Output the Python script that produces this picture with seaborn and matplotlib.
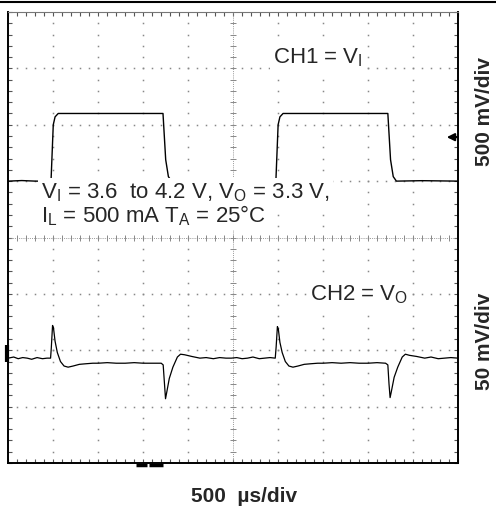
import numpy as np
import matplotlib
matplotlib.use("Agg")
import matplotlib.pyplot as plt
import seaborn as sns

# CH1: napiecie wejsciowe V_I [V], 500 mV/div
CH1_TIME_US = [0, 150, 300, 475, 500, 520, 555, 1720, 1750, 1780, 1815, 2000, 2300,
               2975, 3000, 3020, 3055, 4220, 4250, 4280, 4315, 4600, 5000]
CH1_VOLTS = [3.60, 3.605, 3.60, 3.60, 4.10, 4.17, 4.20, 4.20, 3.79, 3.64, 3.60, 3.603, 3.60,
             3.60, 4.10, 4.17, 4.20, 4.20, 3.79, 3.64, 3.60, 3.604, 3.60]

# CH2: odchylka napiecia wyjsciowego V_O [mV], 50 mV/div (AC)
CH2_TIME_US = [0, 60, 110, 160, 210, 260, 320, 380, 430, 470, 478, 492, 502, 520, 545,
               580, 620, 665, 720, 790, 860, 940, 1000, 1100, 1200, 1300, 1400, 1500,
               1600, 1700, 1722, 1735, 1748, 1760, 1790, 1830, 1880, 1915, 1960, 2040,
               2130, 2200, 2280, 2350, 2420, 2480,
               2540, 2600, 2660, 2720, 2790, 2850, 2910, 2968, 2978, 2992, 3002, 3020,
               3045, 3080, 3120, 3165, 3220, 3290, 3360, 3440, 3500, 3600, 3700, 3800,
               3900, 4000, 4100, 4195, 4220, 4233, 4245, 4258, 4290, 4330, 4380, 4415,
               4460, 4540, 4630, 4700, 4780, 4850, 4920, 5000]
CH2_MV = [-7, -6, -7.5, -6.5, -7, -8, -6.5, -7.5, -7, -7, 2, 22, 20, 8, -2,
          -10, -14, -15, -14, -12.5, -12, -11.5, -11.5, -11, -11.5, -11.5, -11, -11.5,
          -11.5, -11.5, -13, -28, -43, -38, -25, -15, -6, -3.5, -4, -5.5,
          -7, -6.5, -7.5, -6.5, -7, -7,
          -6.5, -7.5, -7, -6, -7.5, -7, -6.5, -7, 3, 21, 19, 7,
          -2, -10, -14, -15, -14, -12.5, -12, -11.5, -11.5, -11, -11.5, -11,
          -11.5, -11.5, -11, -11.5, -13, -30, -42, -37, -24, -15, -6, -3.5,
          -4.5, -5.5, -7, -6, -7.5, -7, -6.5, -7]

# --- ustawienia ekranu oscyloskopu ---
US_PER_DIV = 500
N_XDIV = 10
N_YDIV = 8
CH1_V_PER_DIV = 0.5
CH1_REF_V = 3.6
CH1_REF_DIV = 5
CH2_MV_PER_DIV = 50
CH2_REF_DIV = 2
TRIG_LEVEL_DIV = 5.78
BOTTOM_MARKS_US = [(1420, 1540), (1565, 1720)]

TEXT_SIZE = 16
LABEL_SIZE = 15

sns.set_theme(style="white")
plt.rcParams["font.family"] = ["Liberation Sans", "DejaVu Sans"]
plt.rcParams["mathtext.default"] = "regular"

fig = plt.figure(figsize=(4.96, 5.08), dpi=100)
ax = fig.add_axes([8.3 / 496, 45 / 508, 449.7 / 496, 451 / 508])

x_max = US_PER_DIV * N_XDIV
ch1_div = CH1_REF_DIV + (np.array(CH1_VOLTS) - CH1_REF_V) / CH1_V_PER_DIV
ch2_div = CH2_REF_DIV + np.array(CH2_MV) / CH2_MV_PER_DIV

# siatka kropkowana
minor_x = np.arange(100, x_max, 100)
minor_y = np.arange(0.2, N_YDIV, 0.2)
major_x = [i * US_PER_DIV for i in range(1, N_XDIV) if i != N_XDIV // 2]
major_y = [j for j in range(1, N_YDIV) if j != N_YDIV // 2]
gx, gy = np.meshgrid(major_x, minor_y)
ax.plot(gx.ravel(), gy.ravel(), ls="none", marker="s", ms=1.1, color="#888888", mew=0)
hx, hy = np.meshgrid(minor_x, major_y)
ax.plot(hx.ravel(), hy.ravel(), ls="none", marker="s", ms=1.1, color="#888888", mew=0)

# osie srodkowe z podzialka
cx, cy = x_max / 2, N_YDIV / 2
ax.axhline(cy, color="#999999", lw=0.7, ls=(0, (1, 1.2)))
ax.axvline(cx, color="#999999", lw=0.7, ls=(0, (1, 1.2)))
ax.plot(minor_x, np.full_like(minor_x, cy, dtype=float), ls="none", marker="|",
        ms=4, color="#888888", mew=0.7)
ax.plot(np.full_like(minor_y, cx), minor_y, ls="none", marker="_",
        ms=4, color="#888888", mew=0.7)

# przebiegi
sns.lineplot(x=CH1_TIME_US, y=ch1_div, ax=ax, color="black", lw=1.0,
             estimator=None, sort=False)
sns.lineplot(x=CH2_TIME_US, y=ch2_div, ax=ax, color="black", lw=0.9,
             estimator=None, sort=False)

ax.set_xlim(0, x_max)
ax.set_ylim(0, N_YDIV)
ax.set_xticks([])
ax.set_yticks([])
ax.set_xticks(np.arange(0, x_max + 1, 100), minor=True)
ax.set_yticks(np.arange(0, N_YDIV + 0.01, 0.2), minor=True)
ax.tick_params(which="minor", direction="in", length=3, width=0.8, color="#555555",
               top=True, right=True, bottom=True, left=True,
               labelbottom=False, labelleft=False)
for side in ["left", "right", "bottom"]:
    ax.spines[side].set_color("black")
    ax.spines[side].set_linewidth(1.4)
ax.spines["top"].set_color("#777777")
ax.spines["top"].set_linewidth(0.8)

# znaczniki oscyloskopu
ax.annotate("", xy=(x_max - 125, TRIG_LEVEL_DIV), xytext=(x_max - 5, TRIG_LEVEL_DIV),
            arrowprops=dict(arrowstyle="-|>", color="black", lw=1.5, mutation_scale=11,
                            shrinkA=0, shrinkB=0))
ax.plot([-15, -15], [CH2_REF_DIV - 0.2, CH2_REF_DIV + 0.1], color="black", lw=3,
        clip_on=False, solid_capstyle="butt")
for x0, x1 in BOTTOM_MARKS_US:
    ax.plot([x0, x1], [-0.04, -0.04], color="black", lw=2.5, clip_on=False,
            solid_capstyle="butt")

# opisy
box = dict(facecolor="white", edgecolor="none", pad=2)
ax.text(2940, 7.09, "CH1 = V$_{I}$", fontsize=TEXT_SIZE, va="baseline", bbox=box)
ax.text(3350, 2.89, "CH2 = V$_{O}$", fontsize=TEXT_SIZE, va="baseline", bbox=box)
ax.text(365, 4.70, "V$_{I}$ = 3.6  to 4.2 V, V$_{O}$ = 3.3 V,", fontsize=TEXT_SIZE,
        va="baseline", bbox=box)
ax.text(365, 4.26, "I$_{L}$ = 500 mA T$_{A}$ = 25°C", fontsize=TEXT_SIZE, va="baseline",
        bbox=dict(facecolor="white", edgecolor="none", pad=1))

fig.text(484 / 496, 1 - 112 / 508, "500 mV/div", rotation=90, ha="center", va="center",
         fontsize=LABEL_SIZE, fontweight="bold")
fig.text(484 / 496, 1 - 341 / 508, "50 mV/div", rotation=90, ha="center", va="center",
         fontsize=LABEL_SIZE, fontweight="bold")
fig.text(244 / 496, 1 - 497 / 508, "500  µs/div", ha="center", va="center",
         fontsize=LABEL_SIZE, fontweight="bold")

fig.add_artist(plt.Line2D([0, 1], [1 - 2 / 508, 1 - 2 / 508], color="black", lw=1.5,
                          transform=fig.transFigure))

fig.savefig("out.png", dpi=100)
